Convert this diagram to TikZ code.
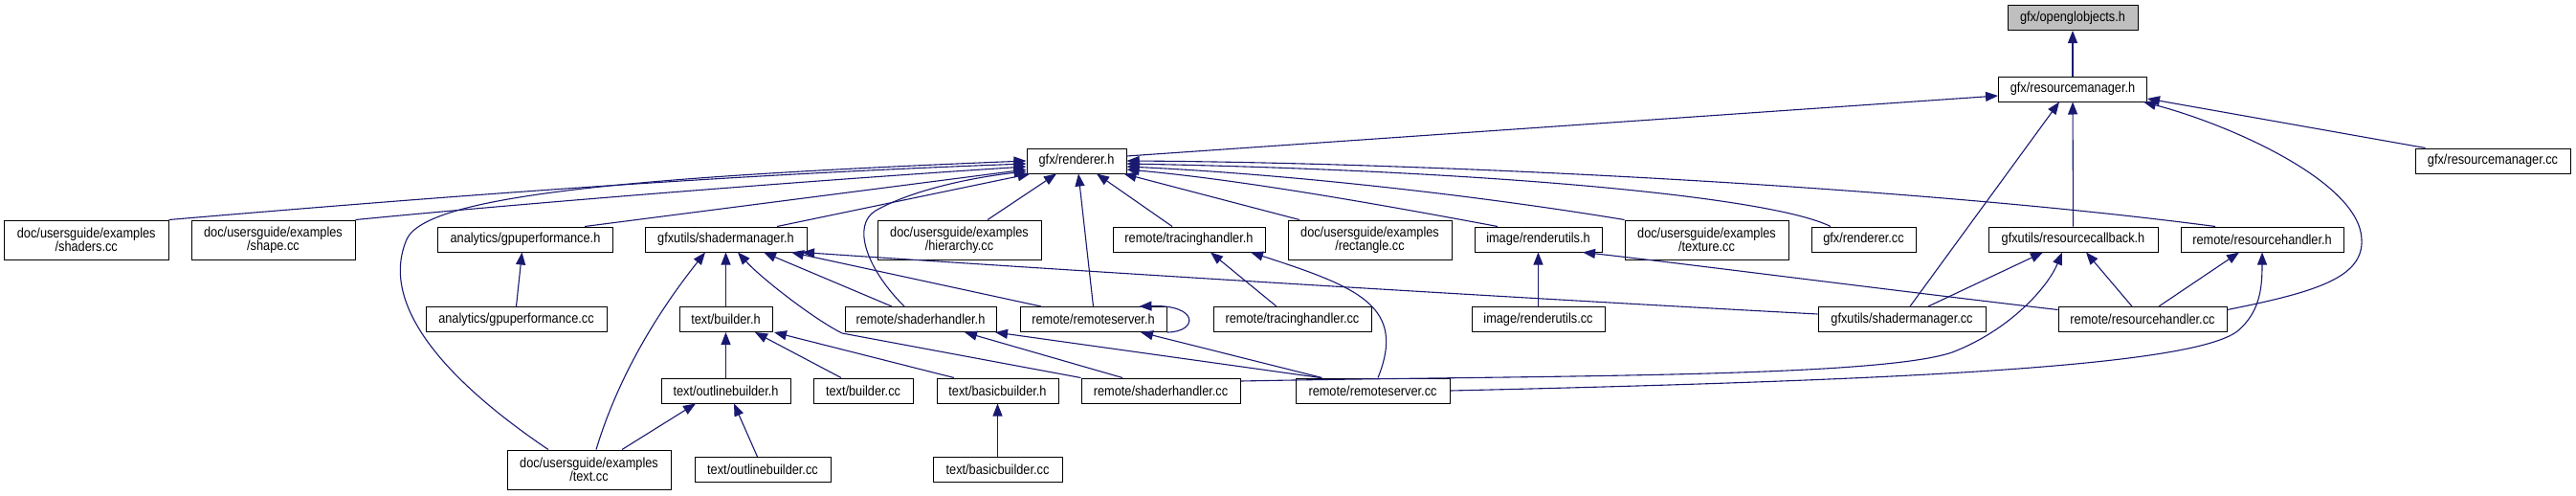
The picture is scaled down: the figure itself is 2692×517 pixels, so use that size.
\documentclass[tikz,border=0pt]{standalone}
\usepackage{fontspec}
\setmainfont{Liberation Sans}[FakeStretch=0.88]
\usetikzlibrary{arrows.meta}
\definecolor{edgeblue}{RGB}{25,25,112}
\definecolor{focusgray}{RGB}{191,191,191}

\begin{document}
\begin{tikzpicture}[x=1pt, y=-1pt,
		file/.style={draw=black, line width=1pt, fill=white, minimum height=26pt, inner xsep=2pt, inner ysep=0pt, font=\fontsize{14.5}{14}\selectfont},
		file2/.style={file, minimum height=41pt, align=center},
		dep/.style={draw=edgeblue, line width=1.1pt, -{Triangle[length=13pt, width=10pt]}}]
		\useasboundingbox (0,0) rectangle (2692,517);

		% headers and sources
		\node[file, fill=focusgray, minimum width=136pt] (ogl) at (2166,18.5) {gfx/openglobjects.h};
		\node[file, minimum width=155pt] (rmh) at (2166,93) {gfx/resourcemanager.h};
		\node[file, minimum width=104pt] (rend) at (1125,168) {gfx/renderer.h};
		\node[file, minimum width=162pt] (rmcc) at (2605,168) {gfx/resourcemanager.cc};

		\node[file2, minimum width=171.5pt] (ex_shaders) at (90.25,250.5) {doc/usersguide/examples\\/shaders.cc};
		\node[file2, minimum width=171pt] (ex_shape) at (285.5,250.5) {doc/usersguide/examples\\/shape.cc};
		\node[file, minimum width=183pt] (gpuh) at (549,250) {analytics/gpuperformance.h};
		\node[file, minimum width=169pt] (smh) at (758.5,250) {gfxutils/shadermanager.h};
		\node[file2, minimum width=171pt] (ex_hier) at (1002.5,250.5) {doc/usersguide/examples\\/hierarchy.cc};
		\node[file, minimum width=159pt] (trh) at (1242.5,250) {remote/tracinghandler.h};
		\node[file2, minimum width=171pt] (ex_rect) at (1431.5,250.5) {doc/usersguide/examples\\/rectangle.cc};
		\node[file, minimum width=133pt] (ruh) at (1607.5,250) {image/renderutils.h};
		\node[file2, minimum width=171pt] (ex_tex) at (1783.5,250.5) {doc/usersguide/examples\\/texture.cc};
		\node[file, minimum width=109pt] (rendcc) at (1947.5,250) {gfx/renderer.cc};
		\node[file, minimum width=177pt] (rcbh) at (2166.5,250) {gfxutils/resourcecallback.h};
		\node[file, minimum width=170pt] (rhh) at (2364,250) {remote/resourcehandler.h};

		\node[file, minimum width=189pt] (gpucc) at (539.5,333.5) {analytics/gpuperformance.cc};
		\node[file, minimum width=97pt] (bldh) at (758.5,333.5) {text/builder.h};
		\node[file, minimum width=158pt] (shh) at (962,333.5) {remote/shaderhandler.h};
		\node[file, minimum width=153pt] (rsh) at (1142.5,333.5) {remote/remoteserver.h};
		\node[file, minimum width=165pt] (trcc) at (1350.5,333.5) {remote/tracinghandler.cc};
		\node[file, minimum width=139pt] (rucc) at (1607.5,333.5) {image/renderutils.cc};
		\node[file, minimum width=175pt] (smcc) at (1987.5,333.5) {gfxutils/shadermanager.cc};
		\node[file, minimum width=176pt] (rhcc) at (2239,333.5) {remote/resourcehandler.cc};

		\node[file, minimum width=135pt] (olbh) at (758.5,408) {text/outlinebuilder.h};
		\node[file, minimum width=104pt] (bldcc) at (902,408) {text/builder.cc};
		\node[file, minimum width=127pt] (bbh) at (1042.5,408) {text/basicbuilder.h};
		\node[file, minimum width=166pt] (shcc) at (1213,408) {remote/shaderhandler.cc};
		\node[file, minimum width=161pt] (rscc) at (1434.5,408) {remote/remoteserver.cc};

		\node[file2, minimum width=171pt] (ex_text) at (615.5,490.5) {doc/usersguide/examples\\/text.cc};
		\node[file, minimum width=142pt] (olbcc) at (797,490.5) {text/outlinebuilder.cc};
		\node[file, minimum width=135pt] (bbcc) at (1042.5,490.5) {text/basicbuilder.cc};

		% gfx/openglobjects.h and gfx/resourcemanager.h
		\draw[dep] (rmh) -- (ogl);
		\draw[dep] ([yshift=5pt]rend.east) -- ([yshift=-7pt]rmh.west);
		\draw[dep] ([xshift=8.5pt]smcc.north) -- ([xshift=-14pt]rmh.south);
		\draw[dep] (rcbh) -- (rmh);
		\draw[dep] ([yshift=10pt]rhcc.east) .. controls (2420,305) and (2470,290) .. (2468,250) .. controls (2466,190) and (2330,130) .. ([xshift=-4pt]rmh.south east);
		\draw[dep] ([xshift=11pt]rmcc.north west) -- ([yshift=-10pt]rmh.east);

		% gfx/renderer.h
		\draw[dep] ([xshift=-42.5pt]ex_text.north) .. controls (470,400) and (395,320) .. (425,250) .. controls (445,205) and (650,185) .. (rend.west);
		\draw[dep] (ex_shaders.north east) .. controls (476,204) and (770,182) .. ([yshift=-3pt]rend.west);
		\draw[dep] (ex_shape.north east) .. controls (571,210) and (870,187) .. ([yshift=-6pt]rend.west);
		\draw[dep] ([xshift=62pt]gpuh.north) -- ([yshift=-9pt]rend.west);
		\draw[dep] ([xshift=53.5pt]smh.north) -- ([xshift=4pt]rend.south west);
		\draw[dep] ([xshift=-17pt]shh.north) .. controls (905,280) and (890,235) .. (915,220) .. controls (950,200) and (1010,186) .. ([yshift=-11pt]rend.west);
		\draw[dep] ([xshift=29.5pt]ex_hier.north) -- ([xshift=-21pt]rend.south);
		\draw[dep] (rsh.north) -- ([xshift=2pt]rend.south);
		\draw[dep] ([xshift=-17.5pt]trh.north) -- ([xshift=21pt]rend.south);
		\draw[dep] ([xshift=-73.5pt]ex_rect.north) -- ([xshift=-3pt]rend.south east);
		\draw[dep] ([xshift=-42.5pt]ruh.north) .. controls (1450,215) and (1300,188) .. ([yshift=-9pt]rend.east);
		\draw[dep] (ex_tex.north west) .. controls (1550,205) and (1350,182) .. ([yshift=-6pt]rend.east);
		\draw[dep] ([xshift=-34.5pt]rendcc.north) .. controls (1850,205) and (1550,178) .. ([yshift=-3pt]rend.east);
		\draw[dep] ([xshift=-49pt]rhh.north) .. controls (2000,195) and (1500,170) .. (rend.east);

		% gfxutils/shadermanager.h
		\draw[dep] ([xshift=7.5pt]ex_text.north) .. controls (650,380) and (700,310) .. ([xshift=-21.5pt]smh.south);
		\draw[dep] (bldh) -- (smh);
		\draw[dep] (shcc.north west) -- (880,348) .. controls (850,333) and (795,290) .. ([xshift=12.5pt]smh.south);
		\draw[dep] ([xshift=-30pt]shh.north) -- ([xshift=39.5pt]smh.south);
		\draw[dep] ([xshift=-54.5pt]rsh.north) -- ([xshift=68.5pt]smh.south);
		\draw[dep] ([yshift=5.5pt]smcc.west) .. controls (1600,312) and (1200,288) .. ([xshift=79.5pt]smh.south);

		% text/*
		\draw[dep] (olbh) -- (bldh);
		\draw[dep] ([xshift=-23pt]bldcc.north) -- ([xshift=30.5pt]bldh.south);
		\draw[dep] ([xshift=-45.5pt]bbh.north) -- ([xshift=50.5pt]bldh.south);
		\draw[dep] ([xshift=34.5pt]ex_text.north) -- ([xshift=-31.5pt]olbh.south);
		\draw[dep] ([xshift=-5.5pt]olbcc.north) -- ([xshift=8.5pt]olbh.south);
		\draw[dep] (bbcc) -- (bbh);

		% analytics
		\draw[dep] (gpucc.north) -- ([xshift=-3.5pt]gpuh.south);

		% remote/*
		\draw[dep] ([xshift=-40pt]shcc.north) -- ([xshift=46pt]shh.south);
		\draw[dep] ([xshift=-54.5pt]rscc.north) -- ([xshift=78pt]shh.south);
		\draw[dep] (rsh.south east) .. controls (1252,347) and (1254,318) .. ([xshift=48pt]rsh.north);
		\draw[dep] ([xshift=-53pt]rscc.north) -- ([xshift=49.5pt]rsh.south);
		\draw[dep] ([xshift=-16.5pt]trcc.north) -- ([xshift=22.5pt]trh.south);
		\draw[dep] ([xshift=5.5pt]rscc.north) .. controls (1470,320) and (1420,300) .. ([xshift=64.5pt]trh.south);

		% image/renderutils.h
		\draw[dep] (rucc) -- (ruh);
		\draw[dep] ([yshift=10pt]rhcc.west) .. controls (1950,300) and (1750,274) .. ([xshift=46.5pt]ruh.south);

		% gfxutils/resourcecallback.h
		\draw[dep] ([xshift=27.5pt]smcc.north) -- ([xshift=-31.5pt]rcbh.south);
		\draw[dep] ([xshift=-11pt]rhcc.north) -- ([xshift=13.5pt]rcbh.south);
		\draw[dep] ([yshift=10pt]shcc.east) .. controls (1600,392) and (1960,395) .. (2040,368) .. controls (2100,345) and (2140,300) .. ([xshift=-11.5pt]rcbh.south);

		% remote/resourcehandler.h
		\draw[dep] ([xshift=17pt]rhcc.north) -- ([xshift=-24pt]rhh.south);
		\draw[dep] (rscc.east) .. controls (2000,397) and (2290,382) .. (2338,346) .. controls (2362,326) and (2364,300) .. (rhh.south);
	\end{tikzpicture}
\end{document}
